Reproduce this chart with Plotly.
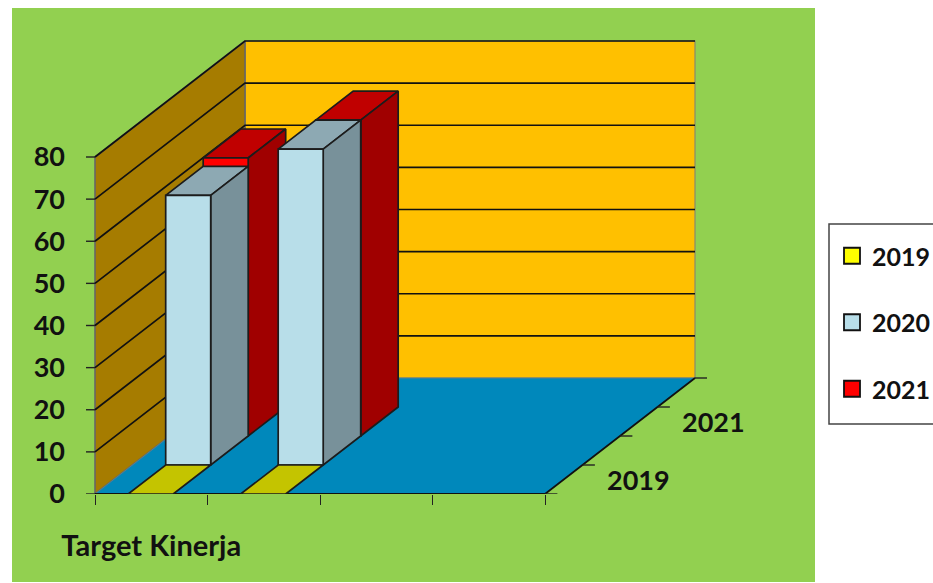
import plotly.graph_objects as go

# ---- data ----
categories = ["Target Kinerja", "", "", ""]
series_names = ["2019", "2020", "2021"]
values_2019 = [0, 0]
values_2020 = [64, 75]
values_2021 = [66, 75]
value_ticks = [0, 10, 20, 30, 40, 50, 60, 70, 80]
depth_labels = ["2019", "2021"]
depth_label_pos = [0.5, 2.5]

# ---- style ----
FONT = "Lato"
GREEN = "#92D050"
WALL_BACK = "#FFC000"
WALL_SIDE = "#A67C00"
FLOOR = "#0088BB"
EDGE = "#1c1c1c"
colors = {  # front, top, side
    "2019": ("#FFFF00", "#C4C400", "#A0A000"),
    "2020": ("#B8DEE9", "#8DA9B3", "#78919A"),
    "2021": ("#FF0000", "#C00000", "#A00000"),
}
KX = 1 / 3        # category units shifted per depth slot
KY = 29 / 4.2125  # value units shifted per depth slot
NCAT = len(categories)
NDEPTH = 4
BAR_LEFT = 0.295
BAR_W = 0.4


def P(c, d, v):
    return c + d * KX, v + d * KY


fig = go.Figure()


def poly(pts, fill=None, line=EDGE, width=1.7, dash=None):
    xs, ys = zip(*[P(*p) for p in pts])
    fig.add_trace(go.Scatter(
        x=list(xs), y=list(ys), mode="lines",
        fill="toself" if fill else None, fillcolor=fill,
        line=dict(color=line, width=width, dash=dash),
        showlegend=False, hoverinfo="skip", cliponaxis=False))


vmax = value_ticks[-1]
# walls and floor
poly([(0, 4, 0), (NCAT, 4, 0), (NCAT, 4, vmax), (0, 4, vmax), (0, 4, 0)], WALL_BACK, "#8a8a6a", 1.2)
poly([(0, 0, 0), (0, 4, 0), (0, 4, vmax), (0, 0, vmax), (0, 0, 0)], WALL_SIDE, "#666666", 1.6)
for v in value_ticks[1:]:
    poly([(0, 0, v), (0, 4, v), (NCAT, 4, v)], None, "#111111", 1.7)
poly([(0, 0, 0), (NCAT, 0, 0), (NCAT, 4, 0), (0, 4, 0), (0, 0, 0)], FLOOR, "#5a7f8f", 1)
poly([(0, 0, 0), (NCAT, 0, 0), (NCAT, 4, 0)], None, "#111111", 1.8)
# depth axis ticks (horizontal, running right of the floor edge)
for d in range(NDEPTH + 1):
    x0, y0 = P(NCAT, d, 0)
    fig.add_trace(go.Scatter(x=[x0, x0 + 0.11], y=[y0, y0], mode="lines",
                             line=dict(color="#222222", width=1.4),
                             showlegend=False, hoverinfo="skip", cliponaxis=False))
# value axis ticks (horizontal, running left of the side wall)
for v in value_ticks:
    fig.add_trace(go.Scatter(x=[-0.08, 0], y=[v, v], mode="lines",
                             line=dict(color="#222222", width=1.4),
                             showlegend=False, hoverinfo="skip", cliponaxis=False))


def bar(cat, slot, val, name):
    front, top, side = colors[name]
    l, r = cat + BAR_LEFT, cat + BAR_LEFT + BAR_W
    d0, d1 = slot, slot + 1
    poly([(l, d0, val), (r, d0, val), (r, d1, val), (l, d1, val), (l, d0, val)], top)
    if val > 0:
        poly([(r, d0, 0), (r, d1, 0), (r, d1, val), (r, d0, val), (r, d0, 0)], side)
        poly([(l, d0, 0), (r, d0, 0), (r, d0, val), (l, d0, val), (l, d0, 0)], front)


series = [("2021", values_2021, 2), ("2020", values_2020, 1), ("2019", values_2019, 0)]
for name, vals, slot in series:
    for i, val in enumerate(vals):
        bar(i, slot, val, name)

# legend entries
for name in series_names:
    fig.add_trace(go.Scatter(
        x=[None], y=[None], mode="markers", name=f"<b>{name}</b>", legendgroup=name,
        marker=dict(symbol="square", size=16, color=colors[name][0],
                    line=dict(color="#111111", width=1.8))))

# depth axis labels
for lab, d in zip(depth_labels, depth_label_pos):
    x, y = P(NCAT, d, 0)
    fig.add_annotation(x=x, y=y, text=f"<b>{lab}</b>", showarrow=False, xshift=75,
                       font=dict(family=FONT, size=27, color="#111111"))

W, H = 933, 583
ML, MR, MT, MB = 85, 226, 30, 89
ORIGIN_X = 95
PW, PH = W - ML - MR, H - MT - MB
px = lambda v: (v - ML) / PW
py = lambda v: (H - MB - v) / PH

fig.update_layout(
    width=W, height=H, margin=dict(l=ML, r=MR, t=MT, b=MB, autoexpand=False),
    paper_bgcolor="white", plot_bgcolor="rgba(0,0,0,0)",
    font=dict(family=FONT, size=27, color="#111111"),
    shapes=[dict(type="rect", xref="paper", yref="paper", layer="below",
                 x0=px(12), x1=px(815), y0=py(582), y1=py(8),
                 fillcolor=GREEN, line=dict(width=0)),
            dict(type="rect", xref="paper", yref="paper", layer="below",
                 x0=px(829), x1=px(945), y0=py(424), y1=py(224),
                 fillcolor="white", line=dict(color="#444444", width=1.5))],
    xaxis=dict(range=[-(ORIGIN_X - ML) / 112.5, (W - MR - ORIGIN_X) / 112.5],
               showgrid=False, zeroline=False, showline=False,
               tickmode="array", tickvals=[i + 0.5 for i in range(NCAT)],
               ticktext=[f"<b>{c}</b>" if c else "" for c in categories],
               tickfont=dict(family=FONT, size=29, color="#111111"),
               ticks="", tickangle=0, ticklabelstandoff=32,
               minor=dict(tickmode="array", tickvals=list(range(NCAT + 1)), ticks="outside",
                          ticklen=10, tickwidth=1.4, tickcolor="#222222", showgrid=False)),
    yaxis=dict(range=[0, PH / 4.2125], showgrid=False, zeroline=False, showline=False,
               tickmode="array", tickvals=value_ticks,
               ticktext=[f"<b>{v}</b>" for v in value_ticks],
               tickfont=dict(family=FONT, size=27, color="#111111"),
               ticklabelstandoff=19, ticks=""),
    legend=dict(x=(832 - ML) / PW, y=py(233), xanchor="left", yanchor="top",
                bgcolor="rgba(0,0,0,0)", borderwidth=0,
                tracegroupgap=31, font=dict(family=FONT, size=25, color="#111111"),
                itemclick=False, itemdoubleclick=False),
)
fig.write_html("out.html", config={"displayModeBar": False},
               post_script="document.body.style.margin='0';")
